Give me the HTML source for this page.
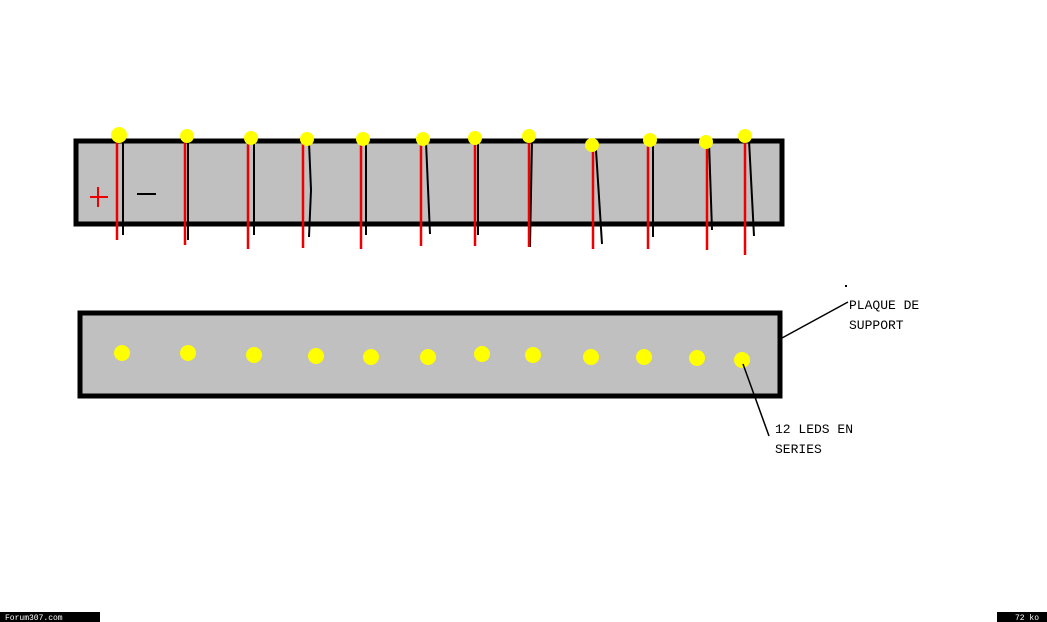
<!DOCTYPE html>
<html><head><meta charset="utf-8"><style>
html,body{margin:0;padding:0;background:#fff;width:1047px;height:622px;overflow:hidden}
svg{display:block}
text{font-family:"Liberation Mono",monospace}
</style></head><body>
<svg width="1047" height="622" viewBox="0 0 1047 622">
<rect x="76" y="141" width="706" height="83" fill="#c0c0c0" stroke="#000" stroke-width="5"/>
<g stroke="#000" stroke-width="2" fill="none">
<path d="M123 142 V235"/><path d="M188 140 V240"/><path d="M254 142 V235"/><path d="M309 142 L311 190 L309 237"/>
<path d="M366 142 V235"/><path d="M426 142 L430 234"/><path d="M478 140 V235"/><path d="M532 140 L530 247"/>
<path d="M596 150 L602 244"/><path d="M653 142 V237"/><path d="M709 142 L712 230"/><path d="M749 140 L754 236"/>
</g>
<g stroke="#e00" stroke-width="2.5" fill="none">
<path d="M117 142 V240"/><path d="M185 140 V245"/><path d="M248 142 V249"/><path d="M303 142 V248"/>
<path d="M361 142 V249"/><path d="M421 142 V246"/><path d="M475 142 V246"/><path d="M529 142 V247"/>
<path d="M593 145 V249"/><path d="M648 142 V249"/><path d="M707 142 V250"/><path d="M745 142 V255"/>
</g>
<g fill="#ffff00">
<circle cx="119" cy="135" r="8"/><circle cx="187" cy="136" r="7"/><circle cx="251" cy="138" r="7"/><circle cx="307" cy="139" r="7"/>
<circle cx="363" cy="139" r="7"/><circle cx="423" cy="139" r="7"/><circle cx="475" cy="138" r="7"/><circle cx="529" cy="136" r="7"/>
<circle cx="592" cy="145" r="7"/><circle cx="650" cy="140" r="7"/><circle cx="706" cy="142" r="7"/><circle cx="745" cy="136" r="7"/>
</g>
<path d="M90 197 H108 M98 187 V207" stroke="#e00" stroke-width="2"/>
<path d="M137 194 H156" stroke="#000" stroke-width="2"/>
<rect x="80" y="313" width="700" height="83" fill="#c0c0c0" stroke="#000" stroke-width="5"/>
<g fill="#ffff00">
<circle cx="122" cy="353" r="8"/><circle cx="188" cy="353" r="8"/><circle cx="254" cy="355" r="8"/><circle cx="316" cy="356" r="8"/>
<circle cx="371" cy="357" r="8"/><circle cx="428" cy="357" r="8"/><circle cx="482" cy="354" r="8"/><circle cx="533" cy="355" r="8"/>
<circle cx="591" cy="357" r="8"/><circle cx="644" cy="357" r="8"/><circle cx="697" cy="358" r="8"/><circle cx="742" cy="360" r="8"/>
</g>
<path d="M782 338 L848 302" stroke="#000" stroke-width="1.5"/>
<path d="M743 364 L769 436" stroke="#000" stroke-width="1.5"/>
<rect x="845" y="285" width="2" height="2" fill="#000"/>
<text x="849" y="309" font-size="13">PLAQUE DE</text>
<text x="849" y="329" font-size="13">SUPPORT</text>
<text x="775" y="433" font-size="13">12 LEDS EN</text>
<text x="775" y="453" font-size="13">SERIES</text>
<rect x="0" y="612" width="100" height="10" fill="#000"/>
<text x="5" y="620" font-size="8" fill="#fff">Forum307.com</text>
<rect x="997" y="612" width="50" height="10" fill="#000"/>
<text x="1015" y="620" font-size="8" fill="#fff">72 ko</text>
</svg>
</body></html>
